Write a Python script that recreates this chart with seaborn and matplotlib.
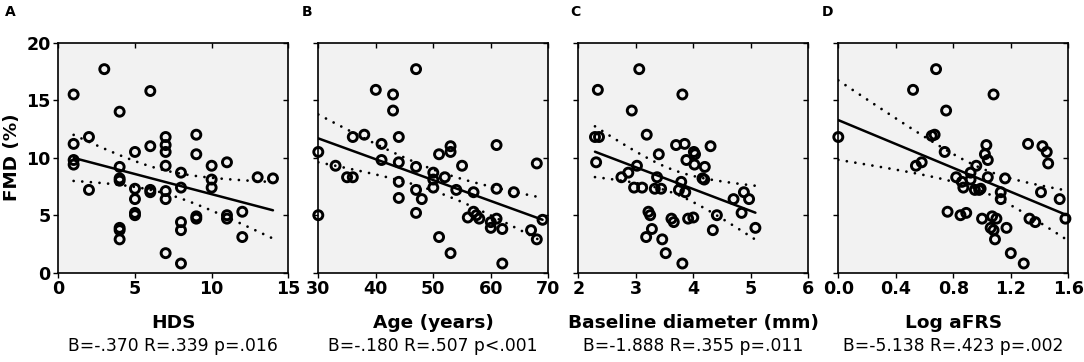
import numpy as np
import pandas as pd
import matplotlib
matplotlib.use("Agg")
import matplotlib.pyplot as plt
import seaborn as sns

# %% data (FMD % against four predictors)
hds = [1, 1, 1, 1, 2, 2, 3, 4, 4, 4, 4, 4, 4, 4, 5, 5, 5, 5, 5, 6, 6, 6, 6,
       7, 7, 7, 7, 7, 7, 7, 8, 8, 8, 8, 8, 9, 9, 9, 9, 10, 10, 10, 11, 11, 11,
       12, 12, 13, 14]
fmd_hds = [15.5, 11.2, 9.8, 9.4, 11.8, 7.2, 17.7, 14.0, 9.2, 8.2, 8.0, 3.9,
           3.7, 2.9, 10.5, 7.3, 6.4, 5.2, 5.0, 15.8, 11.0, 7.2, 7.0, 11.8,
           11.1, 10.5, 9.3, 7.1, 6.4, 1.7, 8.7, 7.4, 4.4, 3.7, 0.8, 12.0, 10.3,
           4.9, 4.7, 9.3, 8.1, 7.4, 9.6, 5.0, 4.7, 5.3, 3.1, 8.3, 8.2]

age = [30, 30, 33, 35, 36, 36, 38, 40, 41, 41, 43, 43, 44, 44, 44, 44, 47, 47,
       47, 47, 48, 50, 50, 50, 51, 51, 52, 53, 53, 53, 54, 55, 56, 57, 57,
       57.5, 58, 60, 60, 61, 61, 61, 62, 62, 64, 67, 68, 68, 69]
fmd_age = [10.5, 5.0, 9.3, 8.3, 8.3, 11.8, 12.0, 15.9, 11.2, 9.8, 15.5, 14.1,
           11.8, 9.6, 7.9, 6.5, 17.7, 9.2, 7.2, 5.2, 6.4, 8.7, 8.1, 7.4, 10.3,
           3.1, 8.3, 11.0, 10.5, 1.7, 7.2, 9.3, 4.8, 7.0, 5.3, 5.0, 4.7, 4.4,
           3.9, 11.1, 7.3, 4.7, 3.8, 0.8, 7.0, 3.7, 9.5, 2.9, 4.6]

diam = [2.34, 3.06, 2.93, 3.81, 2.29, 2.36, 2.31, 3.19, 2.75, 2.87, 3.02, 2.97,
        3.11, 3.33, 3.37, 3.40, 3.44, 3.22, 3.25, 3.28, 3.18, 3.46, 3.52, 3.62,
        3.66, 3.70, 3.75, 3.79, 3.85, 3.86, 3.81, 3.88, 3.91, 4.00, 4.01, 4.02,
        4.03, 4.20, 4.16, 4.19, 4.30, 4.41, 4.34, 4.70, 4.88, 4.84, 4.97, 5.08]
fmd_diam = [15.9, 17.7, 14.1, 15.5, 11.8, 11.8, 9.6, 12.0, 8.3, 8.7, 9.3, 7.4,
            7.4, 7.3, 8.3, 10.3, 7.3, 5.3, 5.0, 3.8, 3.1, 2.9, 1.7, 4.7, 4.4,
            11.1, 7.2, 7.9, 11.2, 7.0, 0.8, 9.8, 4.7, 4.8, 10.5, 9.4, 10.3,
            9.2, 8.2, 8.1, 11.0, 5.0, 3.7, 6.4, 7.0, 5.2, 6.4, 3.9]

log_afrs = [0.0, 0.68, 0.52, 1.08, 0.75, 0.65, 0.67, 0.74, 0.54, 0.58, 0.82,
            0.86, 0.87, 0.92, 0.92, 0.96, 0.95, 0.98, 0.99, 1.03, 1.02, 1.04,
            1.04, 1.16, 1.13, 1.13, 0.76, 0.85, 0.89, 1.00, 1.07, 1.10, 1.06,
            1.08, 1.09, 1.17, 1.20, 1.29, 1.32, 1.33, 1.37, 1.42, 1.45, 1.46,
            1.41, 1.54, 1.58]
fmd_afrs = [11.8, 17.7, 15.9, 15.5, 14.1, 11.9, 12.0, 10.5, 9.3, 9.6, 8.3,
            7.9, 7.4, 8.7, 8.1, 9.3, 7.2, 7.2, 7.3, 11.1, 10.3, 9.8, 8.3, 8.2,
            7.0, 6.4, 5.3, 5.0, 5.2, 4.7, 4.9, 4.7, 3.9, 3.7, 2.9, 3.9, 1.7,
            0.8, 11.2, 4.7, 4.4, 11.0, 10.5, 9.5, 7.0, 6.4, 4.7]

panels = [
    ("A", hds, fmd_hds, "HDS", "B=-.370 R=.339 p=.016", (0, 15), [0, 5, 10, 15], "{:.0f}"),
    ("B", age, fmd_age, "Age (years)", "B=-.180 R=.507 p<.001", (30, 70), [30, 40, 50, 60, 70], "{:.0f}"),
    ("C", diam, fmd_diam, "Baseline diameter (mm)", "B=-1.888 R=.355 p=.011", (2, 6), [2, 3, 4, 5, 6], "{:.0f}"),
    ("D", log_afrs, fmd_afrs, "Log aFRS", "B=-5.138 R=.423 p=.002", (0, 1.6), [0, 0.4, 0.8, 1.2, 1.6], "{:.1f}"),
]

# %% figure
sns.set_style("white")
plt.rcParams['font.family'] = ['DejaVu Sans']
plt.rcParams.update({"text.color": "black", "axes.labelcolor": "black",
                     "xtick.color": "black", "ytick.color": "black"})

W, H = 1084, 362
fig = plt.figure(figsize=(W / 100, H / 100), dpi=100)
lefts = [58.3, 318.3, 578.3, 838.3]
tag_x = [5, 302, 570, 822]
ax_bot, ax_h, ax_w = 272.7, 230, 230

for left, tx, (tag, x, y, xlab, stat, xlim, xticks, fmt) in zip(lefts, tag_x, panels):
    ax = fig.add_axes([left / W, 1 - ax_bot / H, ax_w / W, ax_h / H])
    ax.set_facecolor("#f2f2f2")
    df = pd.DataFrame({"x": x, "y": y})

    # least squares line + 95% confidence band of the mean (dotted)
    xa = np.asarray(x, float)
    ya = np.asarray(y, float)
    n = len(xa)
    b, a = np.polyfit(xa, ya, 1)
    xs = np.linspace(xa.min(), xa.max(), 100)
    fit = a + b * xs
    resid = ya - (a + b * xa)
    s = np.sqrt((resid ** 2).sum() / (n - 2))
    se = s * np.sqrt(1 / n + (xs - xa.mean()) ** 2 / ((xa - xa.mean()) ** 2).sum())
    t = 2.01
    sns.lineplot(x=xs, y=fit, ax=ax, color="black", lw=1.8)
    for band in (fit + t * se, fit - t * se):
        ax.plot(xs, band, color="black", lw=2.0, linestyle=(0, (0.01, 3.1)),
                dash_capstyle="round")

    sns.scatterplot(data=df, x="x", y="y", ax=ax, s=42, facecolor="none",
                    edgecolor="black", linewidth=2.1, zorder=5, clip_on=False)

    ax.set_xlim(*xlim)
    ax.set_ylim(0, 20)
    ax.set_xticks(xticks)
    ax.set_xticklabels([fmt.format(v) for v in xticks], fontweight="bold", fontsize=12.6)
    ax.set_yticks([0, 5, 10, 15, 20])
    if tag == "A":
        ax.set_yticklabels(["0", "5", "10", "15", "20"], fontweight="bold", fontsize=12.6)
        fig.text(11.7 / W, 1 - 157 / H, "FMD (%)", rotation=90, ha="center",
                 va="center", fontweight="bold", fontsize=13.2)
    else:
        ax.set_yticklabels([])
    ax.set_xlabel("")
    ax.set_ylabel("")
    ax.tick_params(axis="both", which="both", bottom=True, left=True, top=True,
                   right=True, direction="out", length=3.5, width=1, pad=2,
                   color="black", labelcolor="black")
    for sp in ax.spines.values():
        sp.set_color("black")
        sp.set_linewidth(1.2)
    # top/right ticks point inward
    for tk in ax.xaxis.get_major_ticks():
        tk.tick2line.set_marker(3)
        tk.tick2line.set_markersize(3.5)
    for tk in ax.yaxis.get_major_ticks():
        tk.tick2line.set_marker(0)
        tk.tick2line.set_markersize(3.5)

    cx = (left + ax_w / 2) / W
    fig.text(cx, 1 - 323 / H, xlab, ha="center", va="center",
             fontweight="bold", fontsize=13.3)
    fig.text(cx, 1 - 345.7 / H, stat, ha="center", va="center", fontsize=12.3)
    fig.text(tx / W, 1 - 12.5 / H, tag, ha="left", va="center",
             fontweight="bold", fontsize=10)

fig.savefig("out.png", dpi=100)
